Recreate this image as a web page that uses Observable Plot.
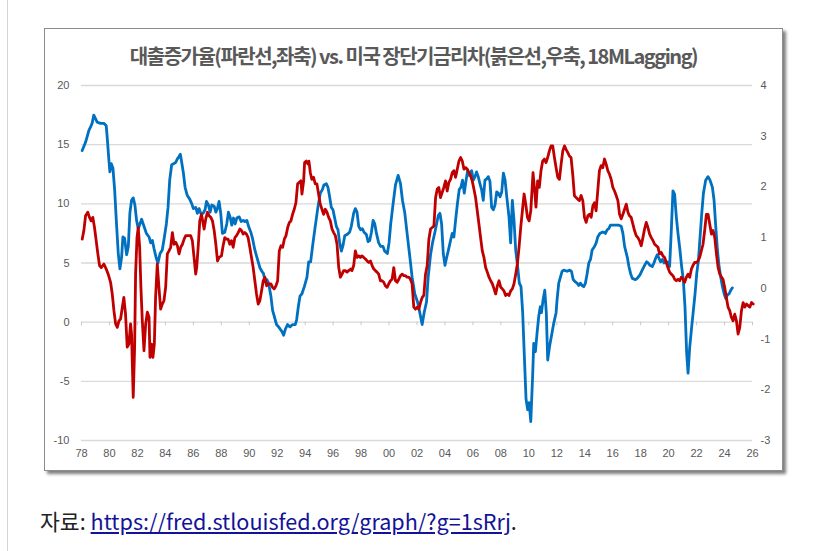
<!DOCTYPE html>
<html><head><meta charset="utf-8">
<script src="https://cdn.jsdelivr.net/npm/d3@7"></script>
<script src="https://cdn.jsdelivr.net/npm/@observablehq/plot@0.6"></script>
<style>
html,body{margin:0;padding:0;background:#fff;}
body{width:837px;height:551px;position:relative;overflow:hidden;}
#vline{position:absolute;left:7px;top:0;width:1px;height:551px;background:#d4d4d4;}
#frame{position:absolute;left:44px;top:28px;width:737px;height:441px;border:1px solid #8c8c8c;box-shadow:3px 3px 3px rgba(0,0,0,0.5);background:#fff;}
#title{position:absolute;left:0;top:16px;width:737px;text-align:center;font-family:"Noto Sans CJK KR",sans-serif;font-weight:700;font-size:20px;line-height:22px;color:#595959;letter-spacing:-1.5px;}
#chart{position:absolute;left:0px;top:41px;}
#caption{position:absolute;left:40px;top:508px;font-family:"Noto Sans CJK KR",sans-serif;font-size:21.6px;line-height:26px;color:#222;}
#caption a{color:#12129a;text-decoration:underline;}
</style></head>
<body>
<div id="vline"></div>
<div id="frame">
  <div id="title">대출증가율(파란선,좌축) vs. 미국 장단기금리차(붉은선,우축, 18MLagging)</div>
  <div id="chart"></div>
</div>
<div id="caption">자료: <a href="https://fred.stlouisfed.org/graph/?g=1sRrj">https://fred.stlouisfed.org/graph/?g=1sRrj</a>.</div>
<script>
// x-axis ticks (years) and y ticks
const xTicks = [1978,1980,1982,1984,1986,1988,1990,1992,1994,1996,1998,2000,2002,2004,2006,2008,2010,2012,2014,2016,2018,2020,2022,2024,2026];
const leftTicks = [-10,-5,0,5,10,15,20];
const rightTicks = [-3,-2,-1,0,1,2,3,4];

// Blue: loan growth (%), left axis
const blueX = [1978.05,1978.29,1978.53,1978.65,1978.76,1978.88,1979.0,1979.12,1979.36,1979.6,1979.77,1979.84,1979.96,1980.03,1980.13,1980.25,1980.37,1980.49,1980.63,1980.75,1980.87,1980.96,1981.08,1981.23,1981.35,1981.46,1981.58,1981.7,1981.82,1981.94,1982.06,1982.18,1982.3,1982.47,1982.64,1982.83,1982.95,1983.07,1983.19,1983.35,1983.47,1983.62,1983.78,1983.93,1984.07,1984.19,1984.31,1984.45,1984.62,1984.74,1984.86,1984.98,1985.07,1985.17,1985.29,1985.41,1985.57,1985.74,1985.89,1986.0,1986.17,1986.29,1986.41,1986.53,1986.7,1986.84,1986.94,1987.08,1987.2,1987.32,1987.49,1987.61,1987.72,1987.84,1987.96,1988.08,1988.25,1988.39,1988.51,1988.63,1988.75,1988.87,1988.99,1989.11,1989.28,1989.42,1989.57,1989.68,1989.83,1989.95,1990.11,1990.23,1990.4,1990.59,1990.76,1990.9,1991.02,1991.14,1991.26,1991.38,1991.55,1991.67,1991.79,1991.95,1992.1,1992.22,1992.34,1992.46,1992.58,1992.74,1992.91,1993.1,1993.29,1993.39,1993.51,1993.63,1993.77,1993.94,
1994.13,1994.25,1994.39,1994.56,1994.72,1994.91,1995.08,1995.23,1995.34,1995.51,1995.63,1995.75,1995.87,1995.99,1996.11,1996.23,1996.35,1996.47,1996.59,1996.71,1996.83,1996.99,1997.18,1997.3,1997.47,1997.59,1997.71,1997.83,1997.97,1998.09,1998.21,1998.38,1998.5,1998.62,1998.74,1998.86,1998.98,1999.1,1999.26,1999.41,1999.57,1999.69,1999.88,2000.0,2000.12,2000.29,2000.46,2000.65,2000.82,2000.96,2001.13,2001.32,2001.49,2001.65,2001.84,2002.04,2002.2,2002.37,2002.51,2002.68,2002.8,2002.97,2003.11,2003.28,2003.4,2003.52,2003.64,2003.76,2003.88,2004.0,2004.11,2004.23,2004.4,2004.52,2004.64,2004.76,2004.88,2005.02,2005.14,2005.26,2005.38,2005.5,2005.62,2005.74,2005.91,2006.03,2006.15,2006.26,2006.38,2006.5,2006.62,2006.74,2006.86,2006.98,2007.1,2007.22,2007.34,2007.46,2007.58,2007.7,2007.82,2007.94,2008.06,2008.18,2008.3,2008.42,2008.58,2008.7,2008.82,2008.94,2009.06,2009.2,2009.32,2009.44,2009.56,2009.68,2009.8,2009.92,2010.02,2010.14,
2010.28,2010.35,2010.47,2010.59,2010.71,2010.82,2010.9,2011.02,2011.14,2011.25,2011.35,2011.49,2011.66,2011.78,2011.95,2012.02,2012.14,2012.26,2012.38,2012.5,2012.74,2012.93,2013.05,2013.17,2013.33,2013.45,2013.57,2013.69,2013.81,2013.93,2014.05,2014.17,2014.29,2014.41,2014.53,2014.7,2014.82,2014.93,2015.08,2015.25,2015.36,2015.48,2015.6,2015.72,2015.84,2016.08,2016.44,2016.61,2016.73,2016.85,2017.04,2017.16,2017.28,2017.4,2017.63,2017.75,2017.95,2018.11,2018.28,2018.42,2018.54,2018.66,2018.83,2018.95,2019.07,2019.19,2019.31,2019.43,2019.55,2019.67,2019.9,2020.07,2020.19,2020.31,2020.43,2020.55,2020.67,2020.81,2020.93,2021.05,2021.17,2021.29,2021.39,2021.51,2021.65,2021.77,2021.89,2022.01,2022.13,2022.25,2022.37,2022.49,2022.65,2022.82,2022.96,2023.13,2023.25,2023.37,2023.49,2023.61,2023.73,2023.85,2023.97,2024.09,2024.21,2024.33,2024.45,2024.56];
const blueY = [14.5,15.2,16.2,16.5,16.8,17.5,17.2,16.9,16.8,16.8,16.6,15.6,13.7,12.7,13.4,13.0,11.2,8.6,5.8,4.5,5.5,7.2,7.1,5.7,6.4,9.2,10.3,10.5,9.9,8.6,7.9,8.3,8.7,8.1,7.5,7.2,6.7,6.9,6.2,5.4,5.0,5.8,6.1,7.2,8.3,9.7,12.0,13.3,13.4,13.5,13.8,14.0,14.2,13.5,12.6,11.4,10.7,10.4,10.0,9.6,9.7,9.2,9.6,9.2,9.2,9.5,10.2,9.9,9.3,9.9,9.8,9.3,9.6,10.2,9.2,7.5,7.6,8.3,9.3,8.9,8.2,8.8,8.3,8.8,8.9,8.5,8.6,8.5,8.6,8.1,7.6,7.1,6.1,5.3,4.6,4.3,4.1,3.4,3.6,3.3,2.2,1.0,0.5,-0.2,-0.4,-0.6,-0.8,-1.1,-0.6,-0.2,-0.4,-0.2,-0.2,0.2,1.3,2.2,2.4,3.0,
3.8,5.1,5.1,6.7,8.1,9.7,10.9,11.2,11.6,11.7,11.4,10.6,9.7,9.5,8.8,8.1,7.8,6.7,6.0,6.5,7.3,7.4,7.6,8.1,9.2,9.6,9.3,8.1,7.8,7.9,7.6,7.4,6.8,6.9,7.6,8.6,8.3,7.5,6.7,6.4,6.4,6.0,5.8,6.7,8.3,10.0,11.6,12.4,11.7,10.3,9.2,7.2,5.5,3.8,2.4,1.7,0.8,-0.2,0.8,1.7,3.8,5.7,6.7,7.6,8.3,9.0,9.2,8.3,5.8,4.8,5.4,6.0,6.9,7.5,7.2,8.6,9.9,11.2,11.4,12.0,10.9,11.9,12.8,12.4,12.8,12.0,12.3,12.7,12.3,11.7,11.2,10.3,12.0,12.1,12.3,11.9,9.7,9.5,9.9,11.0,10.9,10.6,11.0,12.6,12.0,10.6,8.9,6.7,10.3,8.6,6.1,4.7,3.3,3.0,0.8,-2.9,-6.5,-7.4,-6.8,-8.4,
-4.3,-1.8,-2.5,-0.9,0.5,1.3,0.8,1.9,2.7,0.8,-3.2,-2.0,-0.9,-0.1,0.8,1.9,3.3,3.8,4.3,4.4,4.3,4.4,4.3,3.6,3.4,3.3,3.1,3.3,3.1,3.0,3.3,4.1,5.0,5.3,6.1,6.4,6.7,7.2,7.5,7.6,7.6,7.5,7.8,7.9,8.2,8.2,8.2,8.1,7.5,6.4,5.5,4.7,4.1,3.7,3.6,3.7,4.0,4.4,4.8,5.1,5.0,4.8,4.7,5.0,5.4,5.7,5.4,5.1,5.3,5.0,5.1,4.7,7.7,11.1,10.8,8.9,7.5,6.1,4.7,3.6,1.3,-2.6,-4.3,-2.1,-0.4,1.0,2.4,4.1,5.2,7.2,9.2,10.9,12.0,12.3,12.0,11.4,10.3,8.1,6.1,4.7,3.8,3.0,2.4,2.0,2.3,2.4,2.7,2.9];

// Red: long-short rate spread (%p), 18M lagged, right axis
const redX = [1978.05,1978.17,1978.29,1978.45,1978.57,1978.69,1978.81,1978.93,1979.05,1979.17,1979.29,1979.41,1979.6,1979.77,1979.91,1980.08,1980.2,1980.32,1980.44,1980.56,1980.68,1980.8,1980.92,1981.03,1981.15,1981.27,1981.39,1981.51,1981.58,1981.7,1981.8,1981.87,1981.97,1982.06,1982.16,1982.25,1982.35,1982.47,1982.59,1982.71,1982.83,1982.9,1983.02,1983.11,1983.21,1983.3,1983.42,1983.54,1983.66,1983.78,1983.9,1984.02,1984.14,1984.26,1984.38,1984.5,1984.62,1984.74,1984.86,1984.98,1985.1,1985.22,1985.34,1985.46,1985.65,1985.81,1985.93,1986.05,1986.17,1986.24,1986.36,1986.46,1986.58,1986.67,1986.77,1986.89,1987.01,1987.13,1987.25,1987.37,1987.49,1987.61,1987.73,1987.84,1988.01,1988.13,1988.25,1988.37,1988.49,1988.61,1988.73,1988.85,1988.97,1989.09,1989.21,1989.33,1989.45,1989.57,1989.68,1989.8,1989.92,1990.04,1990.16,1990.28,1990.4,1990.52,1990.64,1990.76,1990.88,1991.0,1991.12,1991.24,1991.38,1991.55,1991.67,1991.79,1991.91,1992.03,1992.15,1992.27,1992.39,1992.51,1992.63,1992.75,1992.87,1992.98,1993.1,1993.22,1993.34,1993.46,1993.58,1993.7,1993.77,1993.89,
1993.96,1994.08,1994.2,1994.27,1994.37,1994.48,1994.6,1994.72,1994.84,1994.96,1995.08,1995.2,1995.32,1995.44,1995.56,1995.68,1995.8,1995.92,1996.04,1996.16,1996.28,1996.4,1996.52,1996.64,1996.75,1996.87,1996.99,1997.11,1997.26,1997.35,1997.47,1997.59,1997.71,1997.83,1997.95,1998.07,1998.19,1998.31,1998.43,1998.55,1998.67,1998.79,1998.91,1999.02,1999.14,1999.26,1999.38,1999.5,1999.62,1999.74,1999.86,1999.98,2000.1,2000.22,2000.34,2000.46,2000.58,2000.7,2000.82,2000.94,2001.06,2001.18,2001.29,2001.41,2001.53,2001.65,2001.77,2001.89,2002.01,2002.13,2002.25,2002.37,2002.49,2002.61,2002.73,2002.85,2002.97,2003.09,2003.21,2003.33,2003.45,2003.56,2003.68,2003.8,2003.92,2004.04,2004.16,2004.28,2004.4,2004.52,2004.64,2004.76,2004.88,2005.0,2005.12,2005.24,2005.36,2005.48,2005.6,2005.72,2005.83,2005.95,2006.07,2006.19,2006.31,2006.43,2006.55,2006.67,2006.79,2006.91,2007.03,2007.15,2007.27,2007.39,2007.51,2007.63,2007.75,2007.87,2007.99,2008.1,2008.22,2008.34,2008.46,2008.58,2008.7,2008.82,2008.94,2009.06,2009.18,2009.3,2009.42,2009.54,2009.66,2009.78,2009.9,2010.02,2010.14,
2010.3,2010.42,2010.51,2010.63,2010.75,2010.87,2010.99,2011.11,2011.23,2011.35,2011.47,2011.59,2011.71,2011.83,2011.95,2012.07,2012.19,2012.31,2012.43,2012.55,2012.66,2012.78,2012.9,2013.02,2013.14,2013.26,2013.38,2013.5,2013.62,2013.74,2013.86,2013.98,2014.1,2014.22,2014.34,2014.46,2014.58,2014.7,2014.81,2014.93,2015.05,2015.17,2015.29,2015.41,2015.53,2015.65,2015.77,2015.89,2016.01,2016.13,2016.25,2016.37,2016.49,2016.61,2016.73,2016.85,2016.97,2017.09,2017.2,2017.32,2017.44,2017.56,2017.68,2017.8,2017.92,2018.04,2018.16,2018.28,2018.4,2018.52,2018.64,2018.76,2018.88,2019.0,2019.12,2019.24,2019.35,2019.47,2019.59,2019.71,2019.83,2019.95,2020.07,2020.19,2020.31,2020.43,2020.55,2020.67,2020.79,2020.91,2021.03,2021.15,2021.27,2021.39,2021.51,2021.63,2021.74,2021.86,2021.98,2022.1,2022.22,2022.34,2022.46,2022.58,2022.7,2022.82,2022.94,2023.06,2023.18,2023.3,2023.42,2023.54,2023.66,2023.78,2023.89,2024.01,2024.13,2024.25,2024.37,2024.49,2024.61,2024.73,2024.85,2024.97,2025.09,2025.21,2025.33,2025.45,2025.57,2025.69,2025.81,2025.93,2026.05];
const redY = [0.97,1.14,1.43,1.50,1.40,1.33,1.40,1.20,0.94,0.68,0.45,0.41,0.48,0.38,0.28,0.12,-0.11,-0.44,-0.70,-0.77,-0.64,-0.60,-0.37,-0.18,-0.51,-1.16,-1.10,-0.70,-0.90,-2.15,-1.16,0.28,1.00,1.20,0.81,0.02,-0.64,-1.23,-0.70,-0.47,-0.57,-1.36,-1.10,-1.36,-1.10,-0.18,0.48,0.02,-0.41,-0.31,-0.24,0.02,0.68,0.74,0.81,1.10,0.87,0.91,0.84,0.68,0.81,0.87,0.97,1.04,1.04,1.04,0.94,0.61,0.28,0.41,0.87,1.33,1.46,1.33,1.17,1.37,1.50,1.43,1.40,1.33,1.14,0.87,0.54,0.61,0.64,0.84,1.00,0.97,0.97,0.87,0.94,0.81,1.00,1.04,1.10,1.17,1.14,1.07,1.10,1.07,1.00,0.81,0.61,0.41,0.15,-0.11,-0.31,-0.24,-0.05,0.15,0.22,0.05,0.09,0.09,0.02,-0.01,0.05,0.15,0.74,0.84,0.81,0.97,1.04,1.20,1.30,1.33,1.46,1.56,1.69,2.06,2.09,2.12,1.86,2.12,
2.48,2.51,2.45,2.51,2.28,2.15,2.19,2.06,2.06,1.86,1.66,1.56,1.46,1.56,1.50,1.40,1.33,1.17,1.10,1.04,0.87,0.41,0.22,0.28,0.35,0.35,0.32,0.35,0.38,0.35,0.45,0.74,0.61,0.64,0.61,0.64,0.61,0.58,0.54,0.51,0.54,0.45,0.38,0.35,0.32,0.28,0.15,0.15,0.12,0.05,0.02,0.09,0.15,0.18,0.41,0.15,0.12,0.18,0.25,0.28,0.25,0.25,0.22,0.22,0.18,0.09,-0.37,-0.41,-0.37,-0.41,-0.28,-0.18,-0.14,0.28,0.45,0.97,1.17,1.20,1.23,1.79,1.96,1.99,1.79,1.89,1.99,2.12,1.92,2.09,2.15,2.28,2.32,2.19,2.35,2.51,2.58,2.51,2.35,2.38,2.35,2.28,2.22,2.12,1.96,1.79,1.53,1.27,1.00,0.74,0.61,0.41,0.32,0.22,0.15,0.09,-0.01,-0.11,0.05,0.15,0.02,-0.01,-0.05,-0.14,-0.11,-0.14,-0.05,-0.01,0.09,0.28,0.48,0.81,1.20,1.53,1.86,1.66,1.40,1.33,1.53,
2.28,1.92,1.60,2.12,1.99,2.32,2.51,2.55,2.48,2.58,2.71,2.81,2.81,2.58,2.38,2.19,2.15,2.45,2.71,2.81,2.74,2.68,2.61,2.58,2.25,1.83,1.79,1.76,1.73,1.83,1.73,1.40,1.30,1.43,1.46,1.40,1.63,1.69,1.53,1.92,2.32,2.42,2.38,2.55,2.45,2.32,2.25,2.15,1.99,1.92,1.83,1.73,1.46,1.37,1.46,1.56,1.66,1.50,1.43,1.40,1.27,1.14,1.04,1.00,0.94,0.84,1.00,1.17,1.30,1.20,1.07,1.00,0.94,0.87,0.84,0.81,0.68,0.71,0.64,0.61,0.51,0.41,0.32,0.28,0.25,0.18,0.15,0.18,0.15,0.22,0.18,0.12,0.22,0.28,0.22,0.38,0.45,0.51,0.51,0.54,0.61,0.74,0.87,1.14,1.46,1.46,1.27,1.07,1.14,1.00,0.68,0.41,0.28,0.22,0.18,0.02,-0.18,-0.37,-0.44,-0.57,-0.64,-0.51,-0.64,-0.90,-0.77,-0.44,-0.28,-0.37,-0.31,-0.34,-0.37,-0.28,-0.31];

const blue = blueX.map((x, i) => ({x, y: blueY[i]}));
const red = redX.map((x, i) => ({x, y: redY[i]}));

// right axis (-3..4) mapped onto left axis (-10..20)
const toLeft = v => (v + 3) * 30 / 7 - 10;
const fromLeft = v => (v + 10) * 7 / 30 - 3;

const chart = Plot.plot({
  width: 735,
  height: 398,
  marginLeft: 36,
  marginRight: 28,
  marginTop: 15,
  marginBottom: 28,
  style: {background: "transparent", fontFamily: "Arial, 'Liberation Sans', sans-serif", fontSize: "11px", color: "#595959"},
  x: {domain: [1978, 2026]},
  y: {domain: [-10, 20]},
  marks: [
    Plot.gridY(leftTicks, {stroke: "#d9d9d9", strokeOpacity: 1, strokeWidth: 1.3}),
    Plot.ruleX(xTicks, {x: d => d, y1: 0, y2: -0.3, stroke: "#c8c8c8", strokeWidth: 1}),
    Plot.axisY({ticks: leftTicks, anchor: "left", tickSize: 0, tickPadding: 12, label: null,
      tickFormat: d => String(d)}),
    Plot.axisY({ticks: rightTicks.map(toLeft), anchor: "right", tickSize: 0, tickPadding: 8, label: null,
      tickFormat: d => String(Math.round(fromLeft(d)))}),
    Plot.axisX({ticks: xTicks, anchor: "bottom", tickSize: 0, tickPadding: 9, label: null,
      tickFormat: d => String(d % 100).padStart(2, "0")}),
    Plot.line(blue, {x: "x", y: "y", stroke: "#0070C0", strokeWidth: 2.8, strokeLinejoin: "round"}),
    Plot.line(red, {x: "x", y: d => toLeft(d.y), stroke: "#C00000", strokeWidth: 2.8, strokeLinejoin: "round"})
  ]
});
document.getElementById("chart").appendChild(chart);
</script>
</body></html>
